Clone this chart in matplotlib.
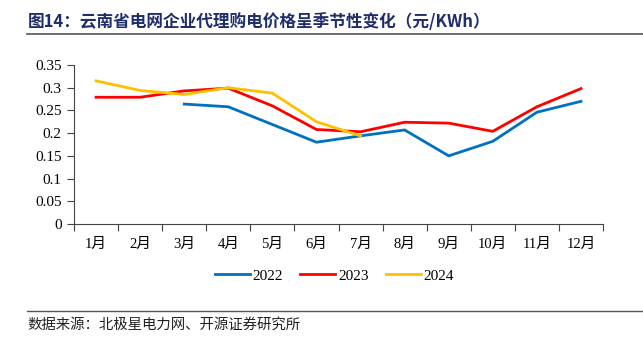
import matplotlib
matplotlib.use("Agg")
import matplotlib.pyplot as plt
import numpy as np

plt.rcParams['font.family'] = ['Liberation Serif', 'Noto Sans CJK SC']

months = ["1月", "2月", "3月", "4月", "5月", "6月", "7月", "8月", "9月", "10月", "11月", "12月"]
price_2022 = [None, None, 0.264, 0.258, 0.219, 0.180, 0.194, 0.207, 0.150, 0.182, 0.246, 0.270]
price_2023 = [0.279, 0.279, 0.293, 0.299, 0.260, 0.208, 0.203, 0.224, 0.222, 0.204, 0.258, 0.298]
price_2024 = [0.315, 0.294, 0.285, 0.300, 0.288, 0.225, 0.194]
years = ["2022", "2023", "2024"]
colors = ["#0070C0", "#FF0000", "#FFC000"]

fig = plt.figure(figsize=(6.43, 3.47), dpi=100)
ax = fig.add_axes([0.1151, 0.3545, 0.8227, 0.4582])

x = np.arange(len(months))
for vals, name, c in zip([price_2022, price_2023, price_2024], years, colors):
    y = np.array([np.nan if v is None else v for v in vals], dtype=float)
    ax.plot(x[:len(y)], y, color=c, lw=2.0, label=name)

ax.set_xlim(-0.5, len(months) - 0.5)
ax.set_ylim(0, 0.35)
ax.set_yticks(np.arange(0, 0.351, 0.05))
ax.set_yticklabels(["0", "0.05", "0.1", "0.15", "0.2", "0.25", "0.3", "0.35"])
# ticks sit between categories, labels at the centres
ax.set_xticks(np.arange(-0.5, len(months), 1.0))
ax.set_xticklabels([])
ax.set_xticks(x, minor=True)
ax.set_xticklabels(months, minor=True)
ax.tick_params(axis='x', which='minor', length=0, pad=10, labelsize=10.5)
ax.tick_params(axis='x', which='major', length=5, direction='out', width=0.8, color='#444444')
ax.tick_params(axis='y', length=5, direction='out', width=0.8, color='#444444', labelsize=11, pad=4)
for s in ["top", "right"]:
    ax.spines[s].set_visible(False)
for s in ["left", "bottom"]:
    ax.spines[s].set_color('#444444')
    ax.spines[s].set_linewidth(0.8)

ax.legend(loc='center', bbox_to_anchor=(0.52, 0.205), bbox_transform=fig.transFigure,
          ncol=3, frameon=False, fontsize=11, handlelength=2.3, handletextpad=0.2,
          columnspacing=1.1)

fig.text(0.043, 0.937, "图14：云南省电网企业代理购电价格呈季节性变化（元/KWh）",
         fontsize=12, fontweight='bold', color='#1F2D6B', va='center',
         family=['Noto Sans CJK SC', 'DejaVu Sans'])
fig.add_artist(plt.Line2D([0.042, 1.0], [0.902, 0.902], color='#555555', lw=1.2,
                          transform=fig.transFigure))
fig.add_artist(plt.Line2D([0.042, 1.0], [0.104, 0.104], color='#555555', lw=1.0,
                          transform=fig.transFigure))
fig.text(0.043, 0.063, "数据来源：北极星电力网、开源证券研究所", fontsize=10.4,
         color='#222222', va='center', family=['Noto Sans CJK SC', 'DejaVu Sans'])

fig.savefig("out.png", dpi=100)
